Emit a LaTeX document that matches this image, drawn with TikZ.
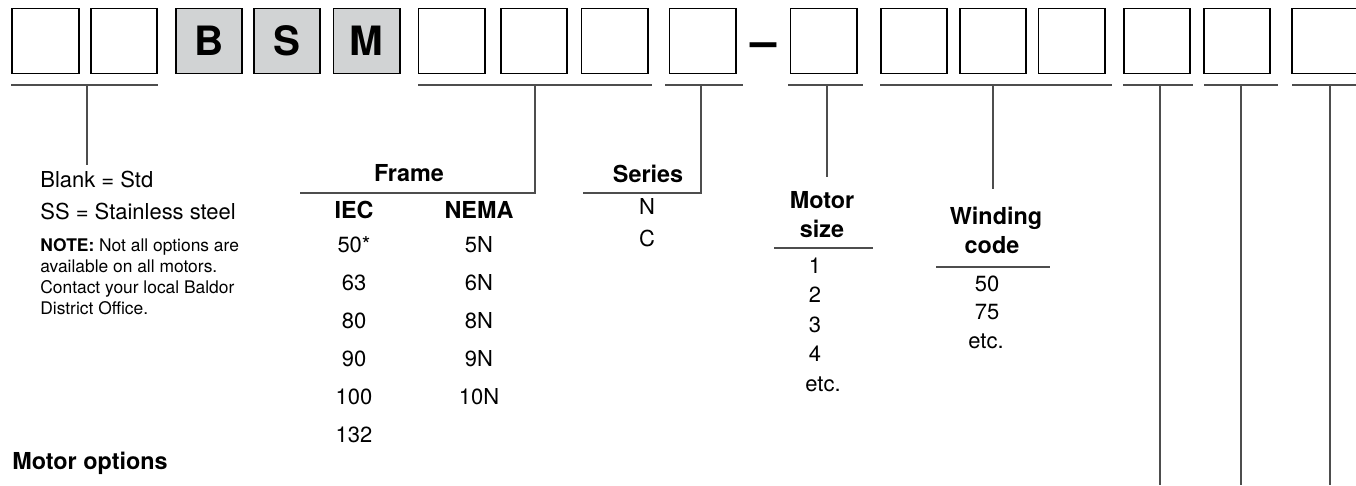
\documentclass[tikz,border=0pt]{standalone}
\usepackage{fontspec}
\setmainfont{TeX Gyre Heros}
\definecolor{keygray}{HTML}{D1D3D4}
\definecolor{rulegray}{HTML}{4D4D4D}

\begin{document}
\begin{tikzpicture}[
    x=0.2mm,
    y=-0.2mm,
    codebox/.style={draw=black,line width=1.1pt,minimum width=37.6pt,
      minimum height=37pt,inner sep=0pt},
    fixedbox/.style={codebox,fill=keygray,
      font=\fontsize{23}{23}\selectfont\bfseries},
    rule/.style={draw=rulegray,line width=0.8pt},
    plaintext/.style={font=\fontsize{12.5}{14}\selectfont,inner sep=0pt,anchor=base},
    headtext/.style={font=\fontsize{13.3}{15}\selectfont\bfseries,inner sep=0pt,anchor=base},
    notetext/.style={font=\fontsize{9.9}{12}\selectfont,inner sep=0pt,anchor=base west}
  ]
    \fill[white] (0,0) rectangle (1356,485);
    \useasboundingbox (0,0) rectangle (1356,485);

    % code boxes
    \foreach \name/\x in {p1/45.5,p2/124,f1/451.5,f2/534,f3/614.5,s1/702.5,
        m1/823.5,w1/914,w2/993,w3/1071.5,o1/1157,o2/1237,o3/1325}
      \node[codebox] (\name) at (\x,41) {};
    \foreach \name/\x/\t in {kb/209/B,ks/287/S,km/366.5/M}
      \node[fixedbox] (\name) at (\x,41) {\t};
    \node[font=\fontsize{27}{27}\selectfont\bfseries,inner sep=0pt,anchor=base]
      (dash) at (763.5,57.3) {--};

    % underlines
    \foreach \a/\b in {11/158,418/652,665/743,788/863,880/1112,
        1123/1193,1204/1278,1292/1356}
      \draw[rule] (\a,85) -- (\b,85);

    % stems
    \coordinate (bottom) at (0,485);
    \coordinate (ptop) at (87,85);
    \coordinate (pend) at (87,165);
    \coordinate (ftop) at (535,85);
    \coordinate (fleft) at (300,193);
    \coordinate (stop) at (701,85);
    \coordinate (sleft) at (583,193);
    \coordinate (mtop) at (827,85);
    \coordinate (mend) at (827,177);
    \coordinate (wtop) at (993,85);
    \coordinate (wend) at (993,189);
    \draw[rule] (ptop) -- (pend);
    \draw[rule] (ftop) |- (fleft);
    \draw[rule] (stop) |- (sleft);
    \draw[rule] (mtop) -- (mend);
    \draw[rule] (wtop) -- (wend);
    \foreach \x/\n in {1160/1,1241/2,1330/3}{
      \coordinate (otop\n) at (\x,85);
      \draw[rule] (otop\n) -- (otop\n |- bottom);
    }

    % prefix
    \node[plaintext,anchor=base west] (blank) at (40,187) {Blank = Std};
    \node[plaintext,anchor=base west] (stainless) at (40,219)
      {SS = Stainless steel};
    \foreach \t [count=\i from 0] in {{\textbf{NOTE:} Not all options are},
        {available on all motors.},{Contact your local Baldor},
        {District Office.}}
      \node[notetext] (note\i) at (40,{251+21.3*\i}) {\t};

    % frame
    \node[headtext] (frame) at (409,181) {Frame};
    \node[headtext] (iec) at (354,218) {IEC};
    \node[headtext] (nema) at (479,218) {NEMA};
    \foreach \v [count=\i from 0] in {50*,63,80,90,100,132}
      \node[plaintext] (iec\i) at (354,{252+38*\i}) {\v};
    \foreach \v [count=\i from 0] in {5N,6N,8N,9N,10N}
      \node[plaintext] (nema\i) at (479,{252+38*\i}) {\v};

    % series
    \node[headtext] (series) at (648,182) {Series};
    \node[plaintext] (seriesn) at (647,214) {N};
    \node[plaintext] (seriesc) at (647,246) {C};

    % motor size
    \node[headtext] (motor) at (822,208) {Motor};
    \node[headtext] (size) at (822,237) {size};
    \draw[rule] (774,248) -- (873,248);
    \foreach \v [count=\i from 0] in {1,2,3,4}
      \node[plaintext] (size\i) at (815,{273+29.5*\i}) {\v};
    \node[plaintext] (sizeetc) at (823,391) {etc.};

    % winding code
    \node[headtext] (winding) at (996,224) {Winding};
    \node[headtext] (code) at (992,253) {code};
    \draw[rule] (936,267) -- (1050,267);
    \node[plaintext] (wind0) at (987,291) {50};
    \node[plaintext] (wind1) at (987,319) {75};
    \node[plaintext] (windetc) at (986,348) {etc.};

    \node[headtext,anchor=base west] (options) at (12,469) {Motor options};
  \end{tikzpicture}
\end{document}
